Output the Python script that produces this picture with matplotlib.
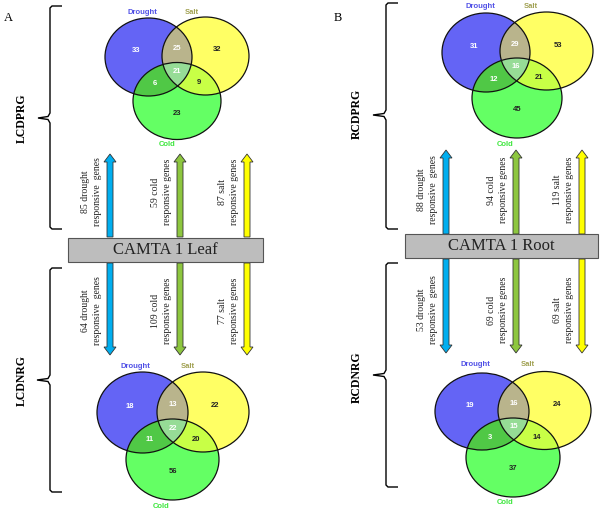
import numpy as np
import matplotlib.pyplot as plt
from matplotlib.patches import Ellipse, Polygon, Rectangle, FancyArrow
from matplotlib.path import Path
from matplotlib.patches import PathPatch

# region counts: D only, S only, D&S, C only, D&C, S&C, D&S&C
leaf_up_venn = [33, 32, 25, 23, 6, 9, 21]
leaf_down_venn = [18, 22, 13, 56, 11, 20, 22]
root_up_venn = [31, 53, 29, 45, 12, 21, 16]
root_down_venn = [19, 24, 16, 37, 3, 14, 15]

stresses = ["drought", "cold", "salt"]
leaf_up_genes = [85, 59, 87]
leaf_down_genes = [64, 109, 77]
root_up_genes = [88, 94, 119]
root_down_genes = [53, 69, 69]

set_names = ["Drought", "Salt", "Cold"]
group_labels = ["LCDPRG", "LCDNRG", "RCDPRG", "RCDNRG"]
box_labels = ["CAMTA 1 Leaf", "CAMTA 1 Root"]

set_colors = ["#6464f5", "#ffff64", "#64ff64"]
pair_colors = {(0, 1): "#b9b48c", (0, 2): "#50c846", (1, 2): "#c8ff46"}
triple_color = "#96dc96"
name_colors = ["#5050e6", "#a0a050", "#3ce63c"]
arrow_colors = ["#00aeef", "#8dc63f", "#ffff00"]

SERIF = "Liberation Serif"
SANS = "Liberation Sans"

fig = plt.figure(figsize=(6, 5.12), dpi=100)
ax = fig.add_axes([0, 0, 1, 1])
ax.set_xlim(0, 600)
ax.set_ylim(512, 0)
ax.axis("off")


def ell_points(e, n=600):
    cx, cy, rx, ry = e
    t = np.linspace(0, 2 * np.pi, n, endpoint=False)
    return np.c_[cx + rx * np.cos(t), cy + ry * np.sin(t)]


def inside(e, p, tol=1e-6):
    cx, cy, rx, ry = e
    return ((p[:, 0] - cx) / rx) ** 2 + ((p[:, 1] - cy) / ry) ** 2 <= 1 + tol


def intersection(ells):
    pts = []
    for i, e in enumerate(ells):
        p = ell_points(e)
        m = np.ones(len(p), bool)
        for j, o in enumerate(ells):
            if j != i:
                m &= inside(o, p)
        pts.append(p[m])
    pts = np.vstack(pts)
    c = pts.mean(axis=0)
    ang = np.arctan2(pts[:, 1] - c[1], pts[:, 0] - c[0])
    return pts[np.argsort(ang)]


def region_centroid(ells, member):
    xs = np.arange(min(e[0] - e[2] for e in ells), max(e[0] + e[2] for e in ells), 0.5)
    ys = np.arange(min(e[1] - e[3] for e in ells), max(e[1] + e[3] for e in ells), 0.5)
    X, Y = np.meshgrid(xs, ys)
    p = np.c_[X.ravel(), Y.ravel()]
    m = np.ones(len(p), bool)
    for e, inn in zip(ells, member):
        m &= inside(e, p) if inn else ~inside(e, p)
    return p[m].mean(axis=0)


def venn(ells, counts, name_pos):
    for e, col in zip(ells, set_colors):
        ax.add_patch(Ellipse((e[0], e[1]), 2 * e[2], 2 * e[3], fc=col, ec="none"))
    for (i, j), col in pair_colors.items():
        ax.add_patch(Polygon(intersection([ells[i], ells[j]]), fc=col, ec="none"))
    ax.add_patch(Polygon(intersection(ells), fc=triple_color, ec="none"))
    for e in ells:
        ax.add_patch(Ellipse((e[0], e[1]), 2 * e[2], 2 * e[3], fc="none",
                             ec="#111111", lw=0.9))
    members = [(1, 0, 0), (0, 1, 0), (1, 1, 0), (0, 0, 1), (1, 0, 1), (0, 1, 1), (1, 1, 1)]
    text_col = ["white", "#222222", "white", "#222222", "white", "#222222", "white"]
    for n, mem, tc in zip(counts, members, text_col):
        x, y = region_centroid(ells, mem)
        ax.text(x, y, str(n), ha="center", va="center", fontsize=5.5, color=tc,
                family=SANS, fontweight="bold")
    for nm, (x, y), col in zip(set_names, name_pos, name_colors):
        ax.text(x, y, nm, ha="center", va="center", fontsize=5.5, color=col,
                family=SANS, fontweight="bold")


def bracket(x, top, bot, tipx, tipy, endx):
    verts = [(endx, top), (x + 2, top), (x, top + 2), (x, tipy - 5), (x - 2, tipy - 1.5),
             (tipx, tipy), (x - 2, tipy + 1.5), (x, tipy + 5), (x, bot - 2), (x + 2, bot),
             (endx, bot)]
    ax.add_patch(PathPatch(Path(verts), fc="none", ec="black", lw=1.0))


def arrows(xs, y0, y1, genes, ytext):
    for x, col, n, s in zip(xs, arrow_colors, genes, stresses):
        ax.add_patch(FancyArrow(x, y0, 0, y1 - y0, width=6, head_width=12,
                                head_length=8, length_includes_head=True,
                                fc=col, ec="#333333", lw=0.6))
        second = "responsive  genes" if s == "drought" else "responsive genes"
        ax.text(x - 18.5, ytext, f"{n} {s}\n{second}", rotation=90, ha="center",
                va="center", multialignment="center", fontsize=7, family=SERIF,
                linespacing=1.3, color="#222222")


def box(x0, y0, x1, y1, label):
    ax.add_patch(Rectangle((x0, y0), x1 - x0, y1 - y0, fc="#bdbdbd", ec="#555555", lw=0.8))
    ax.text((x0 + x1) / 2, (y0 + y1) / 2, label, ha="center", va="center",
            fontsize=12, family=SERIF, color="#222222")


# panel letters
ax.text(8, 18, "A", ha="center", va="center", fontsize=9, family=SERIF)
ax.text(338, 18, "B", ha="center", va="center", fontsize=9, family=SERIF)

# brackets and group labels
bracket(50, 6, 229, 38, 118, 62)
bracket(50, 268, 492, 37, 380, 62)
bracket(386, 3, 229, 373, 115, 398)
bracket(386, 263, 487, 373, 375, 398)
for (x, y), lab in zip([(22, 118), (22, 380), (357, 114), (357, 377)], group_labels):
    ax.text(x, y, lab, rotation=90, ha="center", va="center", fontsize=8.5,
            fontweight="bold", family=SERIF)

# venn diagrams (cx, cy, rx, ry) for Drought, Salt, Cold
venn([(148.5, 57, 43.5, 39), (205.5, 56, 43.5, 39), (177, 101, 44, 38.5)], leaf_up_venn,
     [(142, 12), (192, 12), (167, 145)])
venn([(142.5, 412.5, 45.5, 40.5), (203, 412, 46, 40), (172.5, 459.5, 46.5, 40.5)],
     leaf_down_venn, [(135, 367), (188, 367), (161, 506)])
venn([(486, 52.5, 44, 39.5), (546.5, 51, 46.5, 39), (517, 98, 45, 40)], root_up_venn,
     [(480, 7), (531, 7), (505, 144)])
venn([(482, 411.5, 47, 38.5), (544.5, 410.5, 46.5, 39), (513, 457.5, 47, 39.5)],
     root_down_venn, [(475, 365), (528, 365), (505, 502)])

# arrows
arrows([110, 180, 247], 237, 154, leaf_up_genes, 192)
arrows([110, 180, 247], 263, 355, leaf_down_genes, 311)
arrows([446, 516, 582], 234, 150, root_up_genes, 190)
arrows([446, 516, 582], 259, 353, root_down_genes, 310)

box(68, 238, 263, 262, box_labels[0])
box(405, 234, 598, 258, box_labels[1])

fig.savefig("out.png", dpi=100)
